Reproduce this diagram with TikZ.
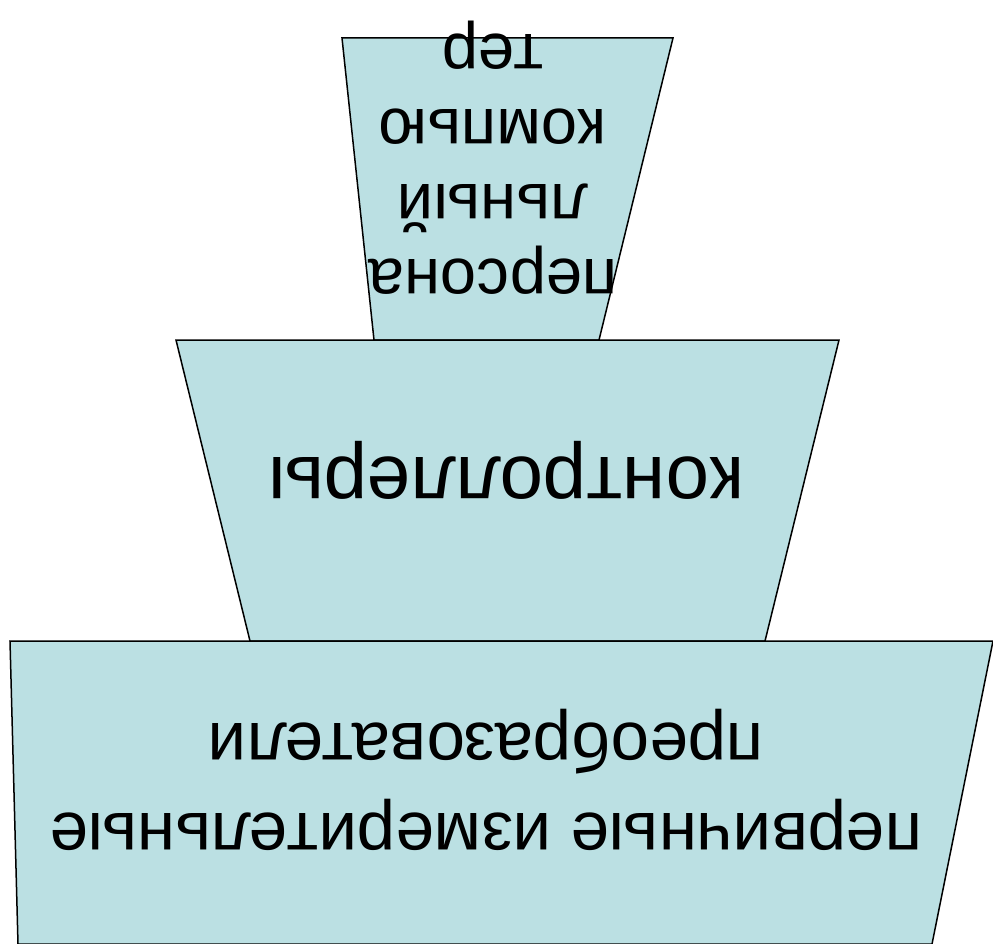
\documentclass[tikz,border=0pt]{standalone}
\usepackage{fontspec}
\setmainfont{Liberation Sans}
\definecolor{boxfill}{HTML}{BBE0E3}
\begin{document}
\begin{tikzpicture}[x=1pt,y=-1pt,
  tier/.style={fill=boxfill,draw=black,line width=1.5pt,line join=miter},
  lbl/.style={rotate=180,align=center,inner sep=0pt,text=black}]
\useasboundingbox (0,0) rectangle (993,944);
\path[tier] (342,38) -- (673,38) -- (599,340) -- (374,340) -- cycle;
\path[tier] (176,340) -- (839,340) -- (765,641) -- (250,641) -- cycle;
\path[tier] (10,641) -- (993,641) -- (932,944) -- (18,944) -- cycle;
\node[lbl,font={\fontsize{65}{75}\selectfont}] (pc) at (493,158) {персона\\льный\\компью\\тер};
\node[lbl,font={\fontsize{78}{90}\selectfont}] (ctrl) at (506,470) {контроллеры};
\node[lbl,font={\fontsize{69}{90}\selectfont}] (sens) at (486,780) {первичные измерительные\\преобразователи};
\end{tikzpicture}
\end{document}
